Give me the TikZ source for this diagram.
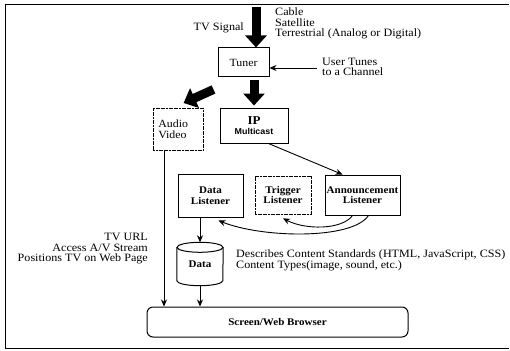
\documentclass[tikz,border=0pt]{standalone}
\usepackage{fontspec}
\setmainfont{Liberation Serif}[FakeStretch=1.08]
\newfontfamily\msans{Liberation Sans}[FakeStretch=1.05]
\usetikzlibrary{arrows.meta,calc}
\begin{document}
\begin{tikzpicture}[x=1pt,y=-1pt,
  txt/.style={font=\fontsize{11.2}{10.5}\selectfont, inner sep=0pt},
  box/.style={draw, line width=1pt, inner sep=1pt, align=center, font=\fontsize{11}{10.5}\selectfont},
  faint/.style={draw, line width=0.6pt, dash pattern=on 2pt off 0.6pt, inner sep=1pt, align=center, font=\fontsize{11}{10.5}\selectfont},
  lbl/.style={font=\fontsize{10.2}{10.5}\selectfont\bfseries},
  bigarrow/.style={line width=9pt, -{Triangle[length=12pt,width=21pt]}},
  arr/.style={line width=0.9pt, -{Stealth[length=7pt,width=6pt]}}
]
\useasboundingbox (0,0) rectangle (510,350);
% frame
\draw[line width=0.9pt] (509,4) -- (5,4) -- (5,348) -- (509,348);

% top signal
\coordinate (sigtop) at (256,7);
\node[txt, anchor=east] (tvsig) at (244,28) {TV Signal};
\node[txt, anchor=north west, align=left] (src) at (275,8) {Cable\\Satellite\\Terrestrial (Analog or Digital)};

\node[box, minimum width=51pt, minimum height=29pt] (tuner) at (243.5,62.5) {Tuner};
\draw[bigarrow] (sigtop) -- (tuner.north -| sigtop);

\node[txt, anchor=west, align=left] (user) at (322,67) {User Tunes\\to a Channel};
\draw[arr] (user.west) ++(-5,1) coordinate (ut) -- (tuner.east |- ut);

\node[faint, minimum width=50pt, minimum height=42pt, anchor=north west, align=left, text width=40pt] (av) at (153,108) {Audio\\Video};
\node[box, minimum width=68pt, minimum height=35pt] (ip) at (254,125.5) {{\fontsize{12}{11}\selectfont\bfseries IP}\\[-1pt]{\msans\fontsize{8.5}{9}\selectfont\bfseries Multicast}};

\draw[bigarrow] (tuner.south -| ip) ++(0,3) -- ($(ip.north)+(0,-2)$);
\draw[bigarrow] ($(tuner.south west)+(-4,12)$) -- ($(av.north east)+(-20,-5)$);

\node[box, lbl, minimum width=65pt, minimum height=43pt] (dl) at (210.5,195.5) {Data\\Listener};
\node[faint, lbl, minimum width=56pt, minimum height=38pt] (tl) at (283,195) {Trigger\\Listener};
\node[box, lbl, minimum width=75pt, minimum height=40pt] (al) at (362.5,195) {Announcement\\Listener};

\draw[arr] ($(ip.south east)+(-20,0)$) -- ($(al.north west)+(18,0)$);

\draw[arr] ($(al.south)+(-10,0)$) .. controls (342,230) and (305,230) .. ($(tl.south)+(0,4)$);
\draw[arr] ($(al.south)+(6,0)$) .. controls (352,240) and (262,238) .. ($(dl.south east)+(-25,3)$);

% cylinder
\node[inner sep=0pt, minimum width=46pt, minimum height=43pt, lbl] (cyl) at (200,264) {\raisebox{-7pt}{Data}};
\draw[line width=1pt] (cyl.north west) ++(0,5) -- ($(cyl.south west)+(0,-5)$) arc[start angle=180, end angle=360, x radius=23, y radius=-5] -- ($(cyl.north east)+(0,5)$);
\draw[line width=1pt] ($(cyl.north)+(0,5)$) ellipse[x radius=23, y radius=5];

\draw[arr] (dl.south -| cyl) -- (cyl.north);

\node[draw, line width=1pt, rounded corners=6pt, minimum width=261pt, minimum height=30pt, lbl] (br) at (277.5,322) {Screen/Web Browser};

\draw[arr] (cyl.south) -- (br.north -| cyl);
\draw[line width=0.7pt] (av.south -| 164,0) coordinate (avl) -- ++(0,20);
\draw[arr, line width=0.8pt] ($(avl)+(0,20)$) -- (br.north -| avl);

\node[txt, anchor=north east, align=right] (tvurl) at (148,233) {TV URL\\Access A/V Stream\\Positions TV on Web Page};
\node[txt, anchor=north west, align=left] (desc) at (236,250) {Describes Content Standards (HTML, JavaScript, CSS)\\Content Types(image, sound, etc.)};
\end{tikzpicture}
\end{document}
